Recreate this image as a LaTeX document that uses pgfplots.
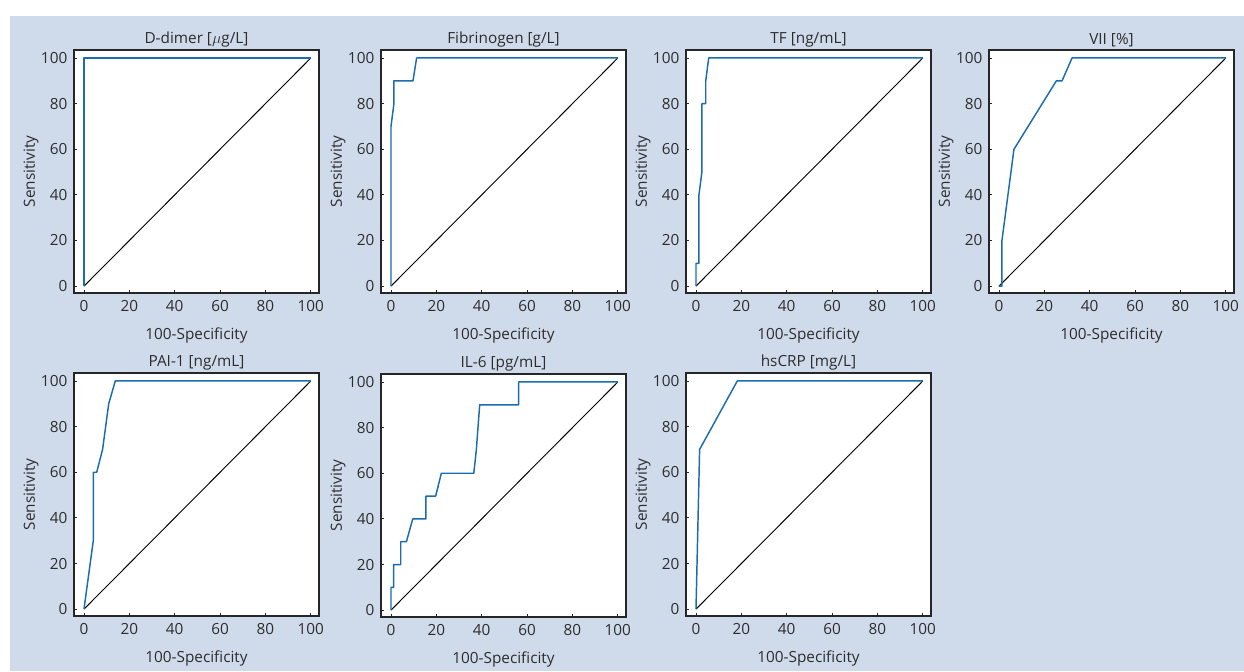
\documentclass[border=0pt]{standalone}
\usepackage{fontspec}
\setmainfont{Open Sans}
\usepackage{pgfplots}
\pgfplotsset{compat=1.18}

\definecolor{bgblue}{RGB}{207,219,235}
\definecolor{rocblue}{RGB}{28,108,176}
\definecolor{txt}{RGB}{45,45,45}

% one pixel of the reference = 0.75pt
\pgfplotsset{
  roc/.style={
    scale only axis,
    width=183.75pt, height=182.25pt,
    anchor=south west,
    xmin=-4.4, xmax=103.6, ymin=-3, ymax=103.5,
    xtick={0,20,...,100}, ytick={0,20,...,100},
    tick align=inside, tick pos=left,
    major tick length=2pt,
    axis line style={black!85, line width=0.8pt},
    every tick/.style={black!85, line width=0.6pt},
    axis background/.style={fill=white},
    /pgf/number format/assume math mode=true,
    font=\fontsize{11.5pt}{13pt}\selectfont,
    tick label style={txt, font=\fontsize{11.5pt}{13pt}\selectfont},
    xticklabel style={yshift=-2pt},
    yticklabel style={xshift=-1.5pt},
    label style={txt},
    title style={txt, yshift=-7.5pt},
    xlabel={100-Specificity},
    ylabel={Sensitivity},
    xlabel style={yshift=-5pt},
    ylabel style={yshift=-5pt},
  },
  diag/.style={black, line width=0.7pt},
  curve/.style={rocblue, line width=1.1pt, line join=round},
}

\newcommand{\rocpanel}[4]{%
  \begin{axis}[roc, at={(#1*0.75pt,{(671-#2)*0.75pt})}, title={#3}]
    \addplot[diag] coordinates {(0,0) (100,100)};
    \addplot[curve] coordinates {#4};
  \end{axis}}

\begin{document}
\begin{tikzpicture}
  \fill[white] (0,0) rectangle (933pt,503.25pt);
  \fill[bgblue] (7.5pt,0) rectangle (933pt,491.25pt);

  \rocpanel{74}{293}{D-dimer [$\mu$g/L]}{(0,0) (0,100) (100,100)}
  \rocpanel{381}{293}{Fibrinogen [g/L]}{(0,0) (0,70) (1.3,80) (1.3,90) (9.7,90) (11.3,100) (100,100)}
  \rocpanel{686}{293}{TF [ng/mL]}{(0,0) (0,10) (1.3,10) (1.3,40) (2.6,50) (2.6,80) (4.3,80) (4.3,90) (5.6,100) (100,100)}
  \rocpanel{989}{293}{VII [\%]}{(0,0) (1.3,0) (1.3,20) (6.6,60) (25.3,90) (27.8,90) (32.2,100) (100,100)}

  \rocpanel{74}{616}{PAI-1 [ng/mL]}{(0,0) (4.1,30) (4.1,60) (5.6,60) (8.2,70) (10.9,90) (13.8,100) (100,100)}
  \rocpanel{381}{617}{IL-6 [pg/mL]}{(0,0) (0,10) (1.2,10) (1.2,20) (4.3,20) (4.3,30) (6.8,30) (9.6,40) (15.4,40) (15.4,50) (19.7,50) (22.2,60) (36.5,60) (37.6,70) (39.1,90) (56.3,90) (56.3,100) (100,100)}
  \rocpanel{686}{616}{hsCRP [mg/L]}{(0,0) (1.6,70) (18.2,100) (100,100)}
\end{tikzpicture}
\end{document}
